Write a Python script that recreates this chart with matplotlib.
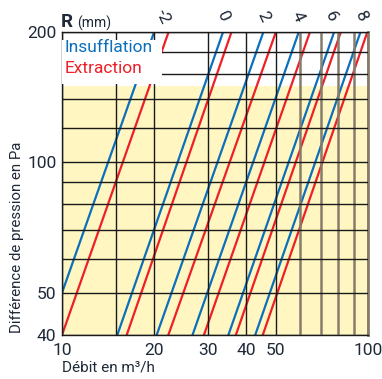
import matplotlib
matplotlib.use("Agg")
import matplotlib.pyplot as plt
from matplotlib.patches import Rectangle
from matplotlib.transforms import blended_transform_factory

plt.rcParams['font.family'] = ['Roboto', 'DejaVu Sans']

# R values (mm) of each pair of curves
r_labels = ['-2', '0', '2', '4', '6', '8']
r_label_q = [21.4, 33.6, 45.4, 59.1, 75.7, 94.9]   # where the labels sit (m3/h)

# flow (m3/h) read at 40 Pa and at 200 Pa for each curve
p_ends = [40, 200]
insuf_q40 = [8.94, 15.16, 20.39, 26.7, 34.97, 42.8]
insuf_q200 = [20.0, 33.6, 45.5, 59.4, 77.5, 94.5]
extr_q40 = [10.0, 16.27, 22.26, 29.1, 37.0, 45.3]
extr_q200 = [22.3, 35.8, 50.0, 64.6, 81.5, 99.5]

x_grid = [10, 15, 20, 30, 40, 50, 60, 70, 80, 90, 100]
x_labels = ['10', '', '20', '30', '40', '50', '', '', '', '', '100']
y_grid = [40, 50, 60, 70, 80, 90, 100, 120, 140, 160, 180, 200]
y_labels = ['40', '50', '', '', '', '', '100', '', '', '', '', '200']

blue = '#0b6fbc'
red = '#ee1f26'
yellow = '#fff6c2'
ink = '#1f2937'

fig = plt.figure(figsize=(3.82, 3.79), dpi=100)
ax = fig.add_axes([0.1623, 0.1161, 0.8011, 0.7995])
ax.set_xscale('log')
ax.set_yscale('log')
ax.set_xlim(10, 100)
ax.set_ylim(40, 200)

ax.axhspan(40, 150, color=yellow, zorder=0, lw=0)

ax.set_xticks(x_grid)
ax.set_xticklabels(x_labels)
ax.set_yticks(y_grid)
ax.set_yticklabels(y_labels)
ax.minorticks_off()
ax.tick_params(length=0, labelsize=12.5, colors=ink)
ax.tick_params(axis='x', pad=6)
ax.tick_params(axis='y', pad=4)
ax.grid(True, color='#1a1a1a', lw=1.0, zorder=1)
ax.set_axisbelow(False)
for q, gl in zip(x_grid, ax.get_xgridlines()):
    if q >= 60:
        gl.set_color('#857c6c')
        gl.set_linewidth(1.8)
    gl.set_zorder(1)
for gl in ax.get_ygridlines():
    gl.set_zorder(1)

for s in ['left', 'bottom', 'top']:
    ax.spines[s].set_color('#1a1a1a')
    ax.spines[s].set_linewidth(1.0)
ax.spines['right'].set_color('#857c6c')
ax.spines['right'].set_linewidth(2.0)

for i in range(len(r_labels)):
    ax.plot([insuf_q40[i], insuf_q200[i]], p_ends, color=blue, lw=1.6, zorder=2)
    ax.plot([extr_q40[i], extr_q200[i]], p_ends, color=red, lw=1.6, zorder=2)

# white box behind the legend text
ax.add_patch(Rectangle((10, 152), 11.2, 40, facecolor='white', edgecolor='none', zorder=3))
ax.text(0.007, 0.950, 'Insufflation', color=blue, fontsize=12.5, va='center', ha='left',
        transform=ax.transAxes, zorder=4)
ax.text(0.007, 0.878, 'Extraction', color=red, fontsize=12.5, va='center', ha='left',
        transform=ax.transAxes, zorder=4)

trans = blended_transform_factory(ax.transData, ax.transAxes)
for q, lab in zip(r_label_q, r_labels):
    ax.text(q, 1.05, lab, rotation=-65, ha='center', va='center', fontsize=12.5,
            color=ink, transform=trans, clip_on=False)

ax.text(-0.003, 1.016, 'R', fontsize=13.5, fontweight='bold', color=ink,
        ha='left', va='baseline', transform=ax.transAxes)
ax.text(0.05, 1.016, '(mm)', fontsize=10, color=ink,
        ha='left', va='baseline', transform=ax.transAxes)

fig.text(62 / 382, 1 - 368 / 379, 'Débit en m³/h', fontsize=11, color=ink,
         ha='left', va='center')
fig.text(17.5 / 382, 1 - 333 / 379, 'Différence de pression en Pa', fontsize=10.8,
         color=ink, rotation=90, ha='center', va='bottom')

fig.savefig('out.png', dpi=100)
